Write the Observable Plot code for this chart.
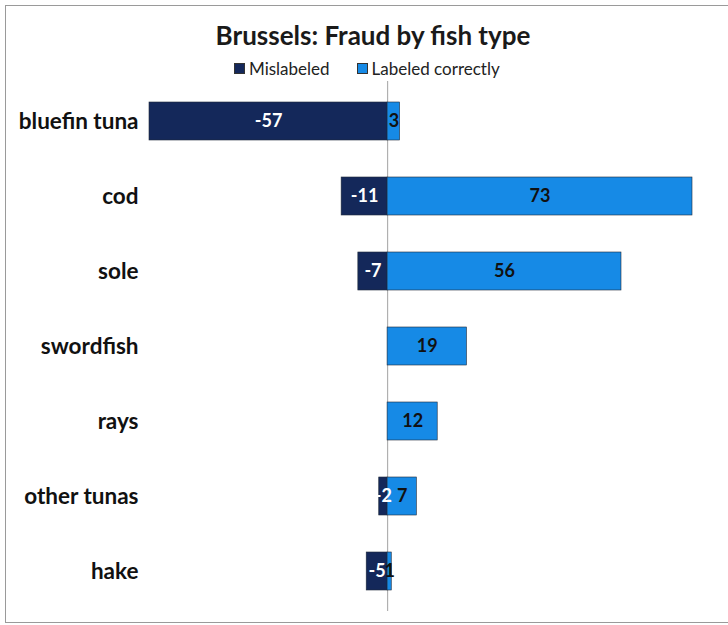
<!DOCTYPE html>
<html><head><meta charset="utf-8">
<script src="https://cdn.jsdelivr.net/npm/d3@7"></script>
<script src="https://cdn.jsdelivr.net/npm/@observablehq/plot@0.6"></script>
<style>
body{margin:0;background:#fff;}
#wrap{position:relative;width:728px;height:625px;overflow:hidden;font-family:Lato,"Open Sans",sans-serif;}
#border{position:absolute;left:5px;top:5px;width:740px;height:618px;border:1px solid #9a9a9a;box-sizing:border-box;}
#title{position:absolute;left:0;top:19px;width:746px;text-align:center;font-weight:bold;font-size:26px;color:#1a1a1a;}
#legend{position:absolute;top:58px;left:234px;font-size:17px;color:#222;display:flex;align-items:center;white-space:nowrap;}
.sw{display:inline-block;width:11px;height:11px;margin-right:4px;border:1px solid #333;box-sizing:border-box;}
#chart{position:absolute;left:0;top:0;}
</style></head>
<body><div id="wrap"><div id="border"></div><div id="chart"></div><div id="title">Brussels: Fraud by fish type</div>
<div id="legend"><span class="sw" style="background:#14285a"></span>Mislabeled<span style="display:inline-block;width:27px"></span><span class="sw" style="background:#168ae6"></span>Labeled correctly</div></div>
<script>
const fish = ["bluefin tuna","cod","sole","swordfish","rays","other tunas","hake"];
const mislabeled = [-57,-11,-7,0,0,-2,-5];
const correct = [3,73,56,19,12,7,1];
const series = ["Mislabeled","Labeled correctly"];
const colors = ["#14285a","#168ae6"];

const data = [];
fish.forEach((f,i)=>{
  data.push({fish:f, series:series[0], value:mislabeled[i]});
  data.push({fish:f, series:series[1], value:correct[i]});
});
const labeled = data.filter(d=>d.value!==0);

const chart = Plot.plot({
  width:728, height:625,
  marginLeft:149, marginRight:36, marginTop:81, marginBottom:14,
  style:{fontFamily:"Lato, 'Open Sans', sans-serif", background:"transparent"},
  x:{domain:[-57,73], axis:null},
  y:{domain:fish, paddingInner:0.5, paddingOuter:0.25, label:null},
  color:{domain:series, range:colors},
  marks:[
    Plot.ruleX([0],{stroke:"#b0b0b0", strokeWidth:1.2}),
    Plot.barX(data.filter(d=>d.value!==0),{y:"fish", x1:0, x2:"value", fill:"series", stroke:"#1f2a3a", strokeWidth:0.6}),
    Plot.text(labeled,{y:"fish", x:d=>d.value/2, text:d=>String(d.value),
      fill:d=>d.series===series[0]?"#ffffff":"#111111", fontSize:18, fontWeight:"bold"}),
    Plot.axisY({tickSize:0, tickPadding:11, fontSize:22.5, fontWeight:"bold", fill:"#111", label:null, dy:0})
  ]
});
document.getElementById("chart").appendChild(chart);
</script></body></html>
